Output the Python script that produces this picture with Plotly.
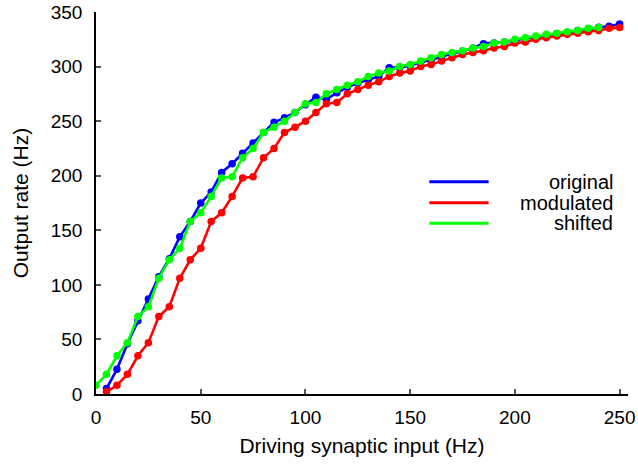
import plotly.graph_objects as go

x_orig = list(range(5, 251, 5))
y_orig = [5, 22.6, 46, 67, 87, 107.5, 124, 144, 158, 175,
          185, 203, 211, 220.5, 230, 239.5, 249, 253, 258, 265,
          272, 270, 276, 281, 285, 288, 291, 299, 299, 301,
          304, 306, 309, 312, 314, 317, 321, 321.5, 322.5, 324,
          326, 327, 329, 330, 331, 333, 334, 336, 337, 339]

x_mod = list(range(5, 251, 5))
y_mod = [2, 8, 18, 35, 47, 71, 80, 106, 123, 133.5,
         158, 166, 181, 198, 199, 216.5, 225, 239.5, 244.5, 250,
         258, 266, 267, 275, 279, 283, 286, 291, 294, 296,
         300, 302, 305, 308, 311, 313, 314.5, 317, 318.5, 321.5,
         322.5, 325, 326.5, 328, 329.5, 330.5, 332, 333, 335, 335.7]

x_shift = list(range(0, 241, 5))
y_shift = [8, 18, 35, 47, 71, 80, 106, 123, 133.5,
           158, 166, 181, 198, 199, 216.5, 225, 239.5, 244.5, 250,
           258, 266, 267, 275, 279, 283, 286, 291, 294, 296,
           300, 302, 305, 308, 311, 313, 314.5, 317, 318.5, 321.5,
           322.5, 325, 326.5, 328, 329.5, 330.5, 332, 333, 335, 335.7]

names = ["original", "modulated", "shifted"]
colors = ["#0000FF", "#FF0000", "#00FF00"]
x_ticks = [0, 50, 100, 150, 200, 250]
y_ticks = [0, 50, 100, 150, 200, 250, 300, 350]

FONT = "Liberation Sans, Arial, sans-serif"
fig = go.Figure()
for xs, ys, nm, c in [(x_orig, y_orig, names[0], colors[0]),
                      (x_mod, y_mod, names[1], colors[1]),
                      (x_shift, y_shift, names[2], colors[2])]:
    fig.add_trace(go.Scatter(x=xs, y=ys, name=nm, mode="lines+markers",
                             line=dict(color=c, width=2.6),
                             marker=dict(color=c, size=7.5),
                             showlegend=False))

# manual legend (right-aligned labels)
leg_y = [0.5558, 0.5008, 0.4469]
for nm, c, ly in zip(names, colors, leg_y):
    fig.add_shape(type="line", xref="paper", yref="paper",
                  x0=0.6265, x1=0.738, y0=ly, y1=ly,
                  line=dict(color=c, width=3))
    fig.add_annotation(xref="paper", yref="paper", x=0.9756, y=ly,
                       text=nm, showarrow=False, xanchor="right", yanchor="middle",
                       font=dict(family=FONT, size=20, color="black"))

fig.update_layout(
    width=638, height=464,
    margin=dict(l=96, r=10, t=12, b=70),
    paper_bgcolor="white", plot_bgcolor="white",
    font=dict(family=FONT, size=19, color="black"),
)
fig.update_xaxes(range=[0, 254], tickvals=x_ticks, ticks="inside", ticklen=5,
                 tickcolor="#555555", tickwidth=1.5, showline=True, linecolor="black",
                 linewidth=1.5, showgrid=False, zeroline=False, automargin=False,
                 ticklabelstandoff=5,
                 title=dict(text="Driving synaptic input (Hz)", standoff=12,
                            font=dict(family=FONT, size=21, color="black")),
                 tickfont=dict(family=FONT, size=19, color="black"))
fig.update_yaxes(range=[0, 350], tickvals=y_ticks, ticks="inside", ticklen=5,
                 tickcolor="#555555", tickwidth=1.5, showline=True, linecolor="black",
                 linewidth=1.5, showgrid=False, zeroline=False, automargin=False,
                 ticklabelstandoff=8,
                 title=dict(text="Output rate (Hz)", standoff=16,
                            font=dict(family=FONT, size=21, color="black")),
                 tickfont=dict(family=FONT, size=19, color="black"))

fig.write_html("out.html")
